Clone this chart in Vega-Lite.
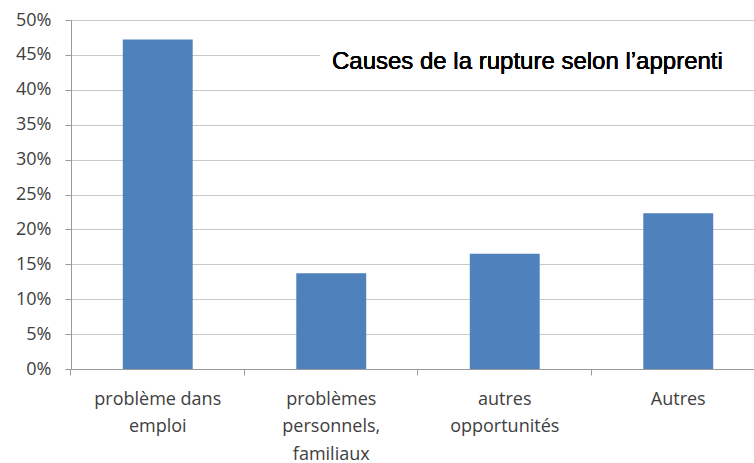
{
  "$schema": "https://vega.github.io/schema/vega-lite/v6.json",
  "width": 683,
  "height": 349,
  "autosize": {"type": "none"},
  "padding": {"left": 71, "top": 20, "right": 0, "bottom": 94},
  "background": "white",
  "config": {
    "view": {"stroke": null},
    "font": "Open Sans",
    "axisX": {
      "title": null, "labelAngle": 0, "ticks": true,
      "bandPosition": -0.741, "tickExtra": false,
      "domainColor": "#9a9a9a", "tickColor": "#9a9a9a", "tickSize": 6,
      "labelFont": "Open Sans", "labelFontSize": 18, "labelColor": "#404040",
      "labelPadding": 15, "labelLineHeight": 27.5, "labelBaseline": "top",
      "labelOverlap": false, "grid": false
    },
    "axisY": {
      "title": null, "format": ".0%",
      "labelOverlap": false, "ticks": true,
      "grid": true, "gridColor": "#c8c8c8", "gridWidth": 1.2,
      "domainColor": "#9a9a9a", "tickColor": "#9a9a9a", "tickSize": 6,
      "labelFont": "Open Sans", "labelFontSize": 18, "labelColor": "#404040",
      "labelPadding": 14
    }
  },
  "data": {"values": [
    {"cause": "problème dans emploi", "share": 0.472},
    {"cause": "problèmes personnels, familiaux", "share": 0.137},
    {"cause": "autres opportunités", "share": 0.165},
    {"cause": "Autres", "share": 0.223}
  ]},
  "layer": [
    {
      "mark": {"type": "bar", "color": "#4f81bd"},
      "encoding": {
        "x": {
          "field": "cause", "type": "nominal", "sort": null,
          "scale": {"range": [0, 694], "paddingInner": 0.597, "paddingOuter": 0.2985},
          "axis": {
            "bandPosition": -0.741, "tickExtra": false,
            "labelExpr": "datum.value == 'problème dans emploi' ? ['problème dans', 'emploi'] : datum.value == 'problèmes personnels, familiaux' ? ['problèmes', 'personnels,', 'familiaux'] : datum.value == 'autres opportunités' ? ['autres', 'opportunités'] : datum.value"
          }
        },
        "y": {
          "field": "share", "type": "quantitative",
          "scale": {"domain": [0, 0.5], "nice": false},
          "axis": {"values": [0, 0.05, 0.1, 0.15, 0.2, 0.25, 0.3, 0.35, 0.4, 0.45, 0.5], "tickCount": 11, "format": ".0%"}
        }
      }
    },
    {
      "mark": {"type": "rect", "color": "white"},
      "encoding": {
        "x": {"datum": "problèmes personnels, familiaux", "bandPosition": 0.34},
        "x2": {"datum": "Autres", "bandPosition": 2},
        "y": {"datum": 0.435, "type": "quantitative", "axis": {"values": [0, 0.05, 0.1, 0.15, 0.2, 0.25, 0.3, 0.35, 0.4, 0.45, 0.5], "tickCount": 11, "format": ".0%"}},
        "y2": {"datum": 0.465}
      }
    },
    {
      "mark": {"type": "text", "align": "left", "baseline": "middle", "font": "Liberation Sans", "fontSize": 24, "color": "black", "dy": 7},
      "encoding": {
        "x": {"datum": "problèmes personnels, familiaux", "bandPosition": 0.51},
        "y": {"datum": 0.45, "type": "quantitative", "axis": {"values": [0, 0.05, 0.1, 0.15, 0.2, 0.25, 0.3, 0.35, 0.4, 0.45, 0.5], "tickCount": 11, "format": ".0%"}},
        "text": {"value": "Causes de la rupture selon l’apprenti"}
      }
    }
  ]
}
